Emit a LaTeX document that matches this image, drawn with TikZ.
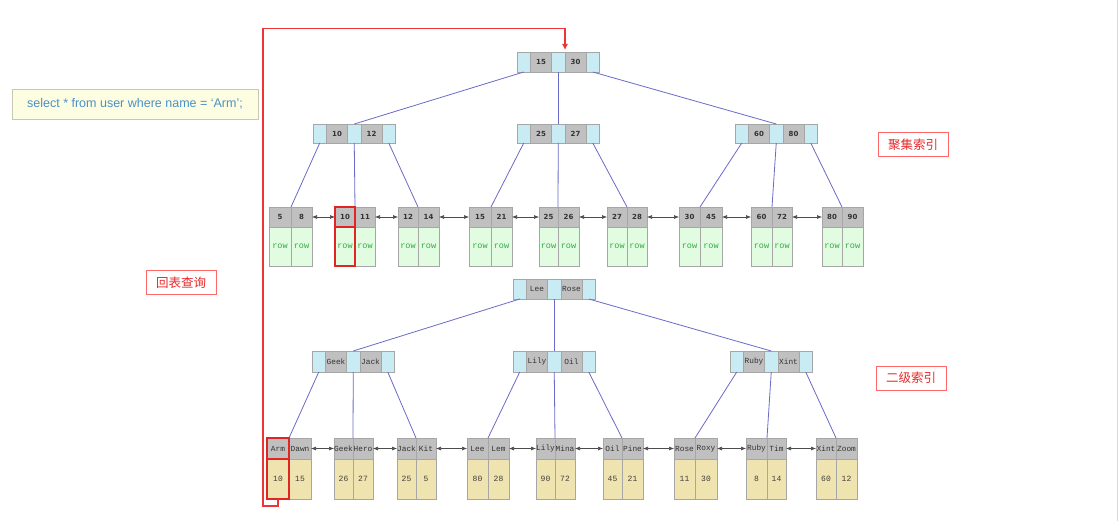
\documentclass[tikz,border=0pt]{standalone}
\usepackage{fontspec}
\setmainfont{Liberation Sans}
\setmonofont{Liberation Mono}
\newfontfamily\cjkfont{Noto Sans CJK SC}
\newfontfamily\keyfont{DejaVu Sans}
\usetikzlibrary{arrows.meta}
\definecolor{cyancell}{HTML}{C9EBF3}
\definecolor{graycell}{HTML}{C0C0C0}
\definecolor{cellborder}{HTML}{A6A6A6}
\definecolor{rowgreen}{HTML}{E1FCE1}
\definecolor{rowtext}{HTML}{33AA44}
\definecolor{beige}{HTML}{EFE3AF}
\definecolor{edgeblue}{HTML}{6A6AC8}
\definecolor{redline}{HTML}{EE3535}
\definecolor{hlred}{HTML}{E02525}
\definecolor{sqlfill}{HTML}{FDFDE2}
\definecolor{sqlborder}{HTML}{C8C8B4}
\definecolor{sqltext}{HTML}{4A90C8}
\definecolor{labred}{HTML}{E82828}
\definecolor{labborder}{HTML}{FF6868}
\newcommand\inode[7]{%
 \node[cell,cyanc,minimum width=13.5pt,minimum height=#7pt] (#1a) at (#2,#3) {};
 \node[cell,grayc,#6,minimum width=21pt,minimum height=#7pt] (#1p) at (#1a.north east) {#4};
 \node[cell,cyanc,minimum width=13.5pt,minimum height=#7pt] (#1b) at (#1p.north east) {};
 \node[cell,grayc,#6,minimum width=21pt,minimum height=#7pt] (#1q) at (#1b.north east) {#5};
 \node[cell,cyanc,minimum width=13.5pt,minimum height=#7pt] (#1c) at (#1q.north east) {};
}
\newcommand\cleaf[8]{%
 \node[cell,grayc,ckey,minimum width={(#3-#2)*1pt},minimum height=20pt] (#1k1) at (#2,207) {#5};
 \node[cell,grayc,ckey,minimum width={(#4-#3)*1pt},minimum height=20pt] (#1k2) at (#1k1.north east) {#6};
 \node[cell,greenc,cval,minimum width={(#3-#2)*1pt},minimum height=39pt] (#1v1) at (#1k1.south west) {#7};
 \node[cell,greenc,cval,minimum width={(#4-#3)*1pt},minimum height=39pt] (#1v2) at (#1k2.south west) {#8};
}
\newcommand\sleaf[8]{%
 \node[cell,grayc,skey,minimum width={(#3-#2)*1pt},minimum height=21pt] (#1k1) at (#2,438) {#5};
 \node[cell,grayc,skey,minimum width={(#4-#3)*1pt},minimum height=21pt] (#1k2) at (#1k1.north east) {#6};
 \node[cell,beigec,sval,minimum width={(#3-#2)*1pt},minimum height=40pt] (#1v1) at (#1k1.south west) {#7};
 \node[cell,beigec,sval,minimum width={(#4-#3)*1pt},minimum height=40pt] (#1v2) at (#1k2.south west) {#8};
}
\begin{document}
\begin{tikzpicture}[x=1pt,y=-1pt,
 cell/.style={draw=cellborder,line width=0.7pt,inner sep=0pt,outer sep=0pt,anchor=north west},
 cyanc/.style={fill=cyancell},
 grayc/.style={fill=graycell},
 greenc/.style={fill=rowgreen},
 beigec/.style={fill=beige},
 ckey/.style={font=\keyfont\bfseries\fontsize{7}{8}\selectfont,text=black!80},
 skey/.style={font=\ttfamily\fontsize{7.8}{9}\selectfont,text=black!80},
 cval/.style={font=\ttfamily\fontsize{8.5}{9}\selectfont,text=rowtext},
 sval/.style={font=\ttfamily\fontsize{8}{9}\selectfont,text=black!75},
 treeedge/.style={draw=edgeblue,line width=0.8pt},
 leaflink/.style={{Latex[length=5pt,width=4pt]}-{Latex[length=5pt,width=4pt]},draw=black!70,line width=0.6pt},
 hl/.style={draw=hlred,line width=1.6pt},
 redpath/.style={draw=redline,line width=1.1pt},
 sqlbox/.style={draw=sqlborder,fill=sqlfill,line width=0.7pt,inner sep=0pt,minimum width=246pt,minimum height=30pt,text=sqltext,font=\fontsize{12.5}{14}\selectfont},
 redlabel/.style={draw=labborder,line width=0.8pt,inner sep=0pt,minimum width=70pt,minimum height=24pt,text=labred,font=\cjkfont\fontsize{12.5}{14}\selectfont}]
\fill[white] (0,0) rectangle (1119,521);
\useasboundingbox (0,0) rectangle (1119,521);
\draw[black!15,line width=0.8pt] (1117.5,0) -- (1117.5,521);

% clustered index
\inode{r0}{517}{52}{15}{30}{ckey}{20}
\inode{c1}{313}{124}{10}{12}{ckey}{19}
\inode{c2}{517}{124}{25}{27}{ckey}{19}
\inode{c3}{735}{124}{60}{80}{ckey}{19}
\cleaf{L1}{269}{291}{312}{5}{8}{row}{row}
\cleaf{L2}{335}{355}{375}{10}{11}{row}{row}
\cleaf{L3}{398}{418}{439}{12}{14}{row}{row}
\cleaf{L4}{469}{491}{512}{15}{21}{row}{row}
\cleaf{L5}{539}{558}{579}{25}{26}{row}{row}
\cleaf{L6}{607}{627}{647}{27}{28}{row}{row}
\cleaf{L7}{679}{700}{722}{30}{45}{row}{row}
\cleaf{L8}{751}{772}{792}{60}{72}{row}{row}
\cleaf{L9}{822}{842}{863}{80}{90}{row}{row}

\draw[treeedge] (r0a.south) -- (c1b.north);
\draw[treeedge] (r0b.south) -- (c2b.north);
\draw[treeedge] (r0c.south) -- (c3b.north);
\draw[treeedge] (c1a.south) -- (L1k1.north east);
\draw[treeedge] (c1b.south) -- (L2k1.north east);
\draw[treeedge] (c1c.south) -- (L3k1.north east);
\draw[treeedge] (c2a.south) -- (L4k1.north east);
\draw[treeedge] (c2b.south) -- (L5k1.north east);
\draw[treeedge] (c2c.south) -- (L6k1.north east);
\draw[treeedge] (c3a.south) -- (L7k1.north east);
\draw[treeedge] (c3b.south) -- (L8k1.north east);
\draw[treeedge] (c3c.south) -- (L9k1.north east);
\foreach \a/\b in {L1/L2,L2/L3,L3/L4,L4/L5,L5/L6,L6/L7,L7/L8,L8/L9}
  \draw[leaflink] (\a k2.east) -- (\b k1.west);

% secondary index
\inode{s0}{513}{279}{Lee}{Rose}{skey}{20}
\inode{s1}{312}{351}{Geek}{Jack}{skey}{21}
\inode{s2}{513}{351}{Lily}{Oil}{skey}{21}
\inode{s3}{730}{351}{Ruby}{Xint}{skey}{21}
\sleaf{S1}{267}{289}{311}{Arm}{Dawn}{10}{15}
\sleaf{S2}{334}{353}{373}{Geek}{Hero}{26}{27}
\sleaf{S3}{397}{416}{436}{Jack}{Kit}{25}{5}
\sleaf{S4}{467}{488}{509}{Lee}{Lem}{80}{28}
\sleaf{S5}{536}{555}{575}{Lily}{Mina}{90}{72}
\sleaf{S6}{603}{622}{643}{Oil}{Pine}{45}{21}
\sleaf{S7}{674}{695}{717}{Rose}{Roxy}{11}{30}
\sleaf{S8}{746}{767}{786}{Ruby}{Tim}{8}{14}
\sleaf{S9}{816}{836}{857}{Xint}{Zoom}{60}{12}

\draw[treeedge] (s0a.south) -- (s1b.north);
\draw[treeedge] (s0b.south) -- (s2b.north);
\draw[treeedge] (s0c.south) -- (s3b.north);
\draw[treeedge] (s1a.south) -- (S1k1.north east);
\draw[treeedge] (s1b.south) -- (S2k1.north east);
\draw[treeedge] (s1c.south) -- (S3k1.north east);
\draw[treeedge] (s2a.south) -- (S4k1.north east);
\draw[treeedge] (s2b.south) -- (S5k1.north east);
\draw[treeedge] (s2c.south) -- (S6k1.north east);
\draw[treeedge] (s3a.south) -- (S7k1.north east);
\draw[treeedge] (s3b.south) -- (S8k1.north east);
\draw[treeedge] (s3c.south) -- (S9k1.north east);
\foreach \a/\b in {S1/S2,S2/S3,S3/S4,S4/S5,S5/S6,S6/S7,S7/S8,S8/S9}
  \draw[leaflink] (\a k2.east) -- (\b k1.west);

% highlights
\draw[hl] (L2k1.north west) rectangle (L2k1.south east);
\draw[hl] (L2v1.north west) rectangle (L2v1.south east);
\draw[hl] (S1k1.north west) rectangle (S1k1.south east);
\draw[hl] (S1v1.north west) rectangle (S1v1.south east);
\draw[redpath,-{Latex[length=6pt,width=6pt]}] (S1v1.south) -- ++(0,7) -| (263,28.5) -| ([yshift=2pt]r0q.north west);

% labels
\node[sqlbox] (sql) at (135,104) {select * from user where name = ‘Arm’;};
\node[redlabel] (lab1) at (913,144.5) {聚集索引};
\node[redlabel] (lab2) at (911,378) {二级索引};
\node[redlabel] (lab3) at (181,282.5) {回表查询};
\end{tikzpicture}
\end{document}
